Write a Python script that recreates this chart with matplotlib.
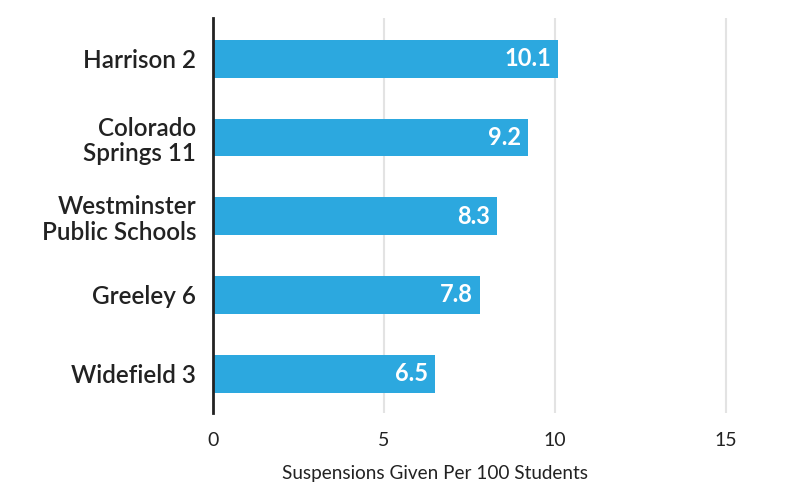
import matplotlib.pyplot as plt

districts = ["Harrison 2", "Colorado\nSprings 11", "Westminster\nPublic Schools",
             "Greeley 6", "Widefield 3"]
rates = [10.1, 9.2, 8.3, 7.8, 6.5]
ticks = [0, 5, 10, 15]

plt.rcParams['font.family'] = ['Lato', 'DejaVu Sans']

fig = plt.figure(figsize=(8, 4.99), dpi=100)
ax = fig.add_axes([213 / 800, 1 - 413 / 499, (760 - 213) / 800, (413 - 18) / 499])

ax.barh(range(len(districts)), rates, height=0.48, color='#2ca8df', zorder=3)

for i, v in enumerate(rates):
    ax.text(v - 0.2, i, f"{v}", ha='right', va='center', color='white',
            fontsize=17, fontweight='bold', zorder=4)

ax.set_xlim(0, 16)
ax.set_ylim(4.5, -0.52)
ax.set_yticks(range(len(districts)))
ax.set_yticklabels(districts, fontsize=17.5, fontweight='semibold', color='#222222',
                   linespacing=1.15)
ax.set_xticks(ticks)
ax.set_xticklabels([str(t) for t in ticks], fontsize=14, color='#222222')
ax.tick_params(axis='x', length=0, pad=14)
ax.tick_params(axis='y', length=0, pad=12)

for s in ['top', 'right', 'bottom']:
    ax.spines[s].set_visible(False)
ax.spines['left'].set_color('#222222')
ax.spines['left'].set_linewidth(2)
ax.spines['left'].set_zorder(5)

ax.grid(axis='x', color='#e3e3e3', linewidth=1.5, zorder=0)
ax.set_axisbelow(True)

fig.text(435 / 800, 1 - 473 / 499, "Suspensions Given Per 100 Students",
         ha='center', va='center', fontsize=13.6, color='#222222')

fig.savefig("out.png", dpi=100)
